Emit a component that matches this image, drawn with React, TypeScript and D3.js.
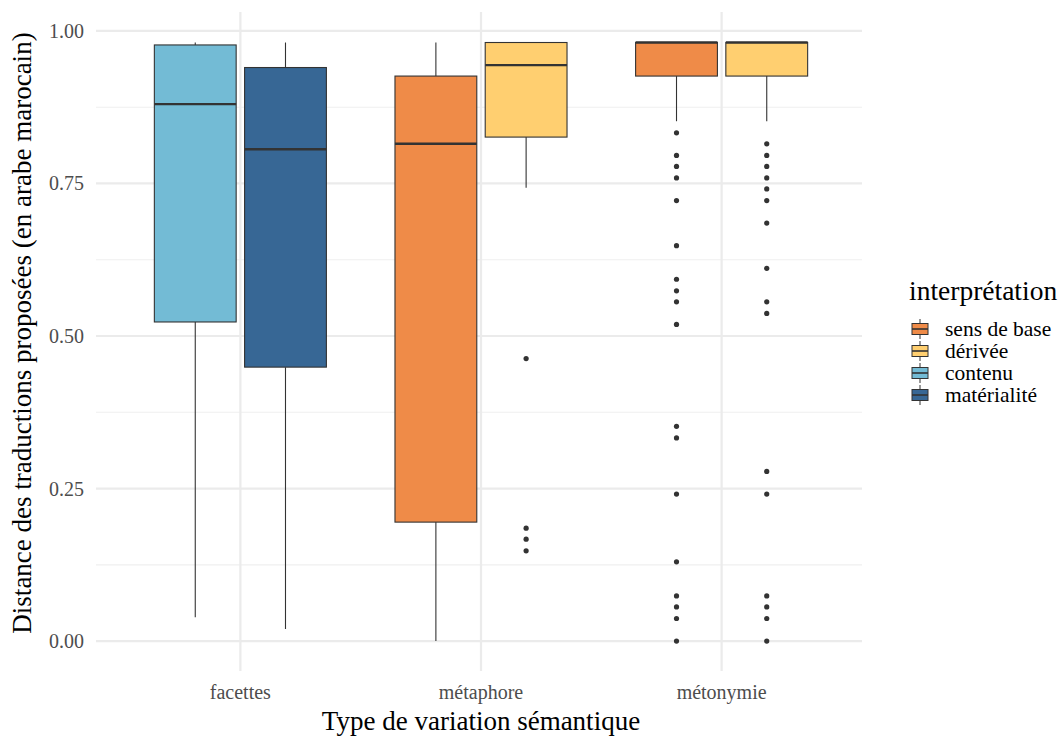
import React from "react";
import * as d3 from "d3";

const categories = ["facettes", "métaphore", "métonymie"];
const groups = ["sens de base", "dérivée", "contenu", "matérialité"];
const groupColors = ["#EF8B48", "#FFCF70", "#73BBD5", "#376795"];

// box stats per box
const boxCategory = ["facettes", "facettes", "métaphore", "métaphore", "métonymie", "métonymie"];
const boxGroup = ["contenu", "matérialité", "sens de base", "dérivée", "sens de base", "dérivée"];
const boxSlot = [0, 1, 0, 1, 0, 1];
const lowerWhisker = [0.039, 0.02, 0.0, 0.743, 0.852, 0.852];
const q1 = [0.523, 0.449, 0.195, 0.826, 0.926, 0.926];
const median = [0.88, 0.806, 0.815, 0.944, 0.981, 0.981];
const q3 = [0.977, 0.94, 0.926, 0.981, 0.981, 0.981];
const upperWhisker = [0.981, 0.981, 0.981, 0.981, 0.981, 0.981];
const outliers: number[][] = [
  [],
  [],
  [],
  [0.463, 0.185, 0.167, 0.148],
  [0.833, 0.796, 0.778, 0.759, 0.722, 0.648, 0.593, 0.574, 0.556, 0.519, 0.352, 0.333, 0.241, 0.13, 0.074, 0.056, 0.037, 0.0],
  [0.815, 0.796, 0.778, 0.759, 0.741, 0.722, 0.685, 0.611, 0.556, 0.537, 0.278, 0.241, 0.074, 0.056, 0.037, 0.0],
];

const yMajor = [0, 0.25, 0.5, 0.75, 1.0];
const yMinor = [0.125, 0.375, 0.625, 0.875];
const yTickLabels = ["0.00", "0.25", "0.50", "0.75", "1.00"];

const FONT = "'Liberation Serif', 'DejaVu Serif', serif";

export default function App() {
  const W = 1060, H = 738;
  const panelL = 96, panelR = 866, panelT = 12, panelB = 671;
  const x = d3.scalePoint<string>().domain(categories).range([panelL, panelR]).padding(0.6);
  const step = x.step();
  const y = d3.scaleLinear().domain([-0.049, 1.031]).range([panelB, panelT]);
  const color = d3.scaleOrdinal<string, string>().domain(groups).range(groupColors);
  const boxW = step * 0.34;
  const off = step * 0.1875;

  return (
    <svg width={W} height={H} style={{ position: "absolute", left: 0, top: 0, background: "#fff" }} fontFamily={FONT}>
      <rect width={W} height={H} fill="#fff" />
      {yMinor.map((v) => (
        <line key={"mi" + v} x1={panelL} x2={panelR - 4} y1={y(v)} y2={y(v)} stroke="#EFEFEF" strokeWidth={1.1} />
      ))}
      {yMajor.map((v) => (
        <line key={"ma" + v} x1={panelL} x2={panelR - 4} y1={y(v)} y2={y(v)} stroke="#EBEBEB" strokeWidth={2.2} />
      ))}
      {categories.map((c) => (
        <line key={"v" + c} x1={x(c)} x2={x(c)} y1={panelT} y2={panelB} stroke="#EBEBEB" strokeWidth={2.2} />
      ))}
      {boxCategory.map((c, i) => {
        const cx = (x(c) as number) + (boxSlot[i] === 0 ? -off : off);
        return (
          <g key={"b" + i}>
            <line x1={cx} x2={cx} y1={y(upperWhisker[i])} y2={y(q3[i])} stroke="#333" strokeWidth={1.1} />
            <line x1={cx} x2={cx} y1={y(q1[i])} y2={y(lowerWhisker[i])} stroke="#333" strokeWidth={1.1} />
            <rect x={cx - boxW / 2} y={y(q3[i])} width={boxW} height={y(q1[i]) - y(q3[i])} fill={color(boxGroup[i])} stroke="#333" strokeWidth={1.1} />
            <line x1={cx - boxW / 2} x2={cx + boxW / 2} y1={y(median[i])} y2={y(median[i])} stroke="#333" strokeWidth={2.4} />
            {outliers[i].map((v, j) => (
              <circle key={j} cx={cx} cy={y(v)} r={2.6} fill="#333" />
            ))}
          </g>
        );
      })}
      {yMajor.map((v, i) => (
        <text key={"yt" + v} x={84} y={y(v)} dy="0.35em" textAnchor="end" fontSize={20} fill="#4D4D4D">
          {yTickLabels[i]}
        </text>
      ))}
      {categories.map((c) => (
        <text key={"xt" + c} x={x(c)} y={699} textAnchor="middle" fontSize={20} fill="#4D4D4D">
          {c}
        </text>
      ))}
      <text x={481} y={730} textAnchor="middle" fontSize={27} fill="#000">
        Type de variation sémantique
      </text>
      <text transform={`translate(31, ${(y(0) + y(1)) / 2 - 3}) rotate(-90)`} textAnchor="middle" fontSize={27} fill="#000">
        Distance des traductions proposées (en arabe marocain)
      </text>
      <text x={909} y={300} fontSize={27.5} fill="#000">interprétation</text>
      {groups.map((g, i) => {
        const cy = 329 + i * 22;
        const kx = 912, kw = 16;
        return (
          <g key={"lg" + g}>
            <line x1={kx + kw / 2} x2={kx + kw / 2} y1={cy - 10} y2={cy + 10} stroke="#333" strokeWidth={1} />
            <rect x={kx} y={cy - 5.5} width={kw} height={11} fill={color(g)} stroke="#333" strokeWidth={1} />
            <line x1={kx} x2={kx + kw} y1={cy} y2={cy} stroke="#333" strokeWidth={1.6} />
            <text x={945} y={cy} dy="0.32em" fontSize={21.5} fill="#000">{g}</text>
          </g>
        );
      })}
    </svg>
  );
}
